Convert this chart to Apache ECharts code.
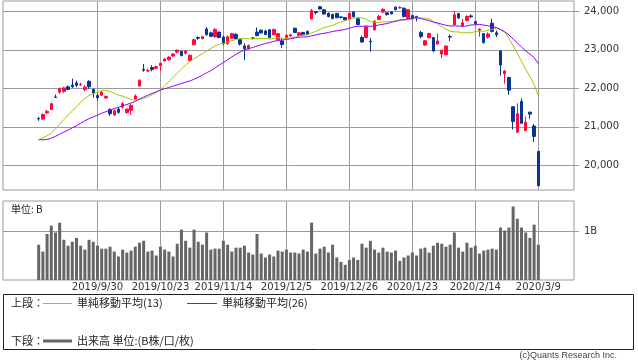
<!DOCTYPE html>
<html><head><meta charset="utf-8">
<script src="https://cdn.jsdelivr.net/npm/echarts@6/dist/echarts.min.js"></script>
<style>html,body{margin:0;padding:0;background:#fff}#c{width:638px;height:362px}</style>
</head><body><div id="c"></div>
<script>
// ---- data ----
const dates = [
'2019/9/6','2019/9/9','2019/9/10','2019/9/11','2019/9/12','2019/9/13','2019/9/17','2019/9/18','2019/9/19','2019/9/20','2019/9/24','2019/9/25','2019/9/26','2019/9/27','2019/9/30',
'2019/10/1','2019/10/2','2019/10/3','2019/10/4','2019/10/7','2019/10/8','2019/10/9','2019/10/10','2019/10/11','2019/10/15','2019/10/16','2019/10/17','2019/10/18','2019/10/21','2019/10/23',
'2019/10/24','2019/10/25','2019/10/28','2019/10/29','2019/10/30','2019/10/31','2019/11/1','2019/11/5','2019/11/6','2019/11/7','2019/11/8','2019/11/11','2019/11/12','2019/11/13','2019/11/14',
'2019/11/15','2019/11/18','2019/11/19','2019/11/20','2019/11/21','2019/11/22','2019/11/25','2019/11/26','2019/11/27','2019/11/28','2019/11/29','2019/12/2','2019/12/3','2019/12/4','2019/12/5',
'2019/12/6','2019/12/9','2019/12/10','2019/12/11','2019/12/12','2019/12/13','2019/12/16','2019/12/17','2019/12/18','2019/12/19','2019/12/20','2019/12/23','2019/12/24','2019/12/25','2019/12/26',
'2019/12/27','2019/12/30','2020/1/6','2020/1/7','2020/1/8','2020/1/9','2020/1/10','2020/1/14','2020/1/15','2020/1/16','2020/1/17','2020/1/20','2020/1/21','2020/1/22','2020/1/23',
'2020/1/24','2020/1/27','2020/1/28','2020/1/29','2020/1/30','2020/1/31','2020/2/3','2020/2/4','2020/2/5','2020/2/6','2020/2/7','2020/2/10','2020/2/12','2020/2/13','2020/2/14',
'2020/2/17','2020/2/18','2020/2/19','2020/2/20','2020/2/21','2020/2/25','2020/2/26','2020/2/27','2020/2/28','2020/3/2','2020/3/3','2020/3/4','2020/3/5','2020/3/6','2020/3/9'];

const opens = [
21215,21200,21360,21450,21775,21900,21920,22040,22085,22140,22090,21970,22180,21970,21810,
21820,21750,21450,21310,21460,21510,21370,21430,21720,22060,22490,22450,22540,22520,22590,
22710,22740,22840,22940,22960,22910,22720,23130,23320,23290,23540,23440,23340,23460,23330,
23160,23300,23400,23270,23100,23030,23310,23460,23510,23490,23520,23390,23260,23230,23320,
23360,23560,23370,23450,23480,23800,23990,24120,24040,23950,23920,23945,23855,23840,23800,
23985,23805,23320,23320,23220,23520,23790,23980,23960,23985,24110,24090,24080,23820,23890,
23870,23450,23125,23315,23320,23150,22890,22870,23345,23650,23940,23620,23760,23880,23730,
23500,23420,23330,23690,23440,22970,22380,22280,21520,20860,21660,20900,21380,21020,20360];

const closes = [
21205,21320,21400,21600,21765,21990,22010,21970,22040,22080,22100,22030,22040,21880,21755,
21900,21790,21340,21420,21375,21600,21460,21555,21800,22210,22470,22460,22490,22560,22650,
22760,22810,22890,22990,22850,22970,22860,23260,23300,23340,23390,23350,23530,23320,23160,
23340,23420,23290,23150,23030,23110,23300,23370,23440,23400,23320,23530,23420,23135,23380,
23390,23450,23440,23390,23400,24020,23970,24060,23930,23865,23815,23835,23845,23780,23950,
23860,23656,23204,23600,23205,23740,23870,24050,23915,23935,24040,24100,23865,24040,23800,
23830,23343,23235,23425,22970,23230,22990,23100,23330,23910,23830,23700,23870,23860,23680,
23540,23190,23410,23480,23390,22605,22450,21950,21140,21340,21090,21120,21330,20750,19470];

const lows = [
21155,21180,21340,21440,21760,21860,21880,21950,22010,22030,22060,21920,21980,21760,21680,
21800,21730,21280,21280,21340,21470,21340,21310,21700,22040,22430,22420,22440,22500,22450,
22700,22720,22820,22910,22830,22880,22700,23120,23260,23270,23370,23330,23320,23300,23120,
23130,23290,23280,23110,22730,23000,23270,23350,23420,23380,23300,23370,23240,23050,23300,
23340,23430,23350,23370,23380,23790,23920,24050,23910,23840,23790,23820,23810,23770,23790,
23840,23640,23180,23300,22950,23500,23770,23960,23890,23920,24030,24070,23840,23810,23780,
23740,23300,23100,23300,22940,23140,22780,22860,23230,23640,23800,23600,23740,23820,23650,
23340,23160,23290,23450,23330,22330,22120,21830,20930,20850,21080,20890,21210,20610,19460];

const highs = [
21260,21345,21440,21630,21840,22020,22040,22070,22250,22200,22140,22080,22210,21990,21860,
21930,21810,21480,21450,21510,21640,21470,21590,21840,22230,22630,22510,22600,22590,22660,
22790,22830,22910,23010,22970,23000,22870,23290,23350,23360,23590,23470,23560,23470,23370,
23370,23440,23430,23290,23170,23140,23330,23580,23530,23520,23540,23550,23440,23300,23400,
23410,23580,23460,23470,23500,24060,24010,24140,24050,23970,23940,23960,23870,23850,23970,
24000,23820,23365,23610,23310,23770,23910,24080,23975,24000,24120,24130,24100,24050,23900,
23880,23490,23250,23440,23330,23420,23000,23110,23400,24010,23960,23800,23890,23920,23760,
23560,23430,23450,23810,23500,22980,22470,22300,21540,21610,21740,21260,21390,21070,20370];

// 出来高 (B)
const volumes = [
0.72,0.58,0.94,1.11,0.97,1.17,0.82,0.70,0.78,0.86,0.70,0.62,0.82,0.78,0.70,
0.64,0.64,0.68,0.58,0.48,0.62,0.56,0.60,0.68,0.76,0.80,0.58,0.60,0.50,0.68,
0.62,0.58,0.48,0.74,1.03,0.80,0.66,1.03,0.78,0.72,0.97,0.62,0.64,0.64,0.80,
0.72,0.58,0.66,0.66,0.70,0.56,0.52,0.94,0.54,0.46,0.52,0.48,0.60,0.58,0.62,
0.56,0.56,0.54,0.62,0.58,1.17,0.54,0.64,0.68,0.56,0.72,0.46,0.37,0.31,0.41,
0.46,0.41,0.74,0.66,0.80,0.62,0.56,0.66,0.58,0.56,0.60,0.39,0.46,0.50,0.56,
0.50,0.64,0.66,0.56,0.70,0.76,0.74,0.68,0.72,0.97,0.66,0.58,0.76,0.66,0.70,
0.54,0.60,0.62,0.64,0.62,1.07,1.01,1.07,1.50,1.25,1.07,0.97,0.86,1.13,0.72];

// closes of the sessions just before the first candle (only feed the moving averages)
const closesBeforeWindow = [21540,21087,20720,20585,20516,20593,20684,20455,20655,20405,20418,20563,20677,20618,20628,20711,20261,20456,20479,20460,20704,20620,20625,20649,21085];

const tickDates = ['2019/9/30','2019/10/23','2019/11/14','2019/12/5','2019/12/26','2020/1/23','2020/2/14','2020/3/9'];
const priceTicks = [20000,21000,22000,23000,24000];
const volumeTicks = [1];

// ---- build ----
const PAD = 8;
const cats = [];
for (let k = 0; k < PAD; k++) cats.push('L' + k);
dates.forEach(d => cats.push(d));
for (let k = 0; k < PAD; k++) cats.push('R' + k);

const padEmpty = n => Array(n).fill('-');
const candleData = Array(PAD).fill(['-','-','-','-']).concat(dates.map((d, i) => [opens[i], closes[i], lows[i], highs[i]]));
function movingAverage(n) {
  const all = closesBeforeWindow.concat(closes);
  const off = closesBeforeWindow.length;
  const out = [];
  for (let i = 0; i < closes.length; i++) {
    const j = off + i;
    if (j - n + 1 < 0) { out.push('-'); continue; }
    let s = 0;
    for (let k = j - n + 1; k <= j; k++) s += all[k];
    out.push(+(s / n).toFixed(1));
  }
  return padEmpty(PAD).concat(out);
}
const ma13 = movingAverage(13);
const ma26 = movingAverage(26);
const volData = padEmpty(PAD).concat(volumes);

const UP = '#ff0a3c', DOWN = '#0a3396', MA13C = '#99cc00', MA26C = '#9900ff', VOLC = '#666666', GRID = '#9a9a9a';
const gridLine = {
  silent: true, symbol: ['none', 'none'], z: 1, animation: false,
  label: { show: false }, emphasis: { disabled: true },
  lineStyle: { color: GRID, width: 1, type: 'solid' }
};
const font = 'DejaVu Sans';
const jp = '"Noto Sans CJK JP", sans-serif';

const chart = echarts.init(document.getElementById('c'), null, { renderer: 'canvas' });
chart.setOption({
  animation: false,
  backgroundColor: '#fff',
  grid: [
    { left: 3, top: 1, width: 571, height: 189, show: true, borderColor: GRID, borderWidth: 1, backgroundColor: 'transparent' },
    { left: 3, top: 201, width: 571, height: 79, show: true, borderColor: GRID, borderWidth: 1, backgroundColor: 'transparent' }
  ],
  xAxis: [
    { gridIndex: 0, type: 'category', data: cats, boundaryGap: true,
      axisLine: { show: false }, axisTick: { show: false }, axisLabel: { show: false }, splitLine: { show: false } },
    { gridIndex: 1, type: 'category', data: cats, boundaryGap: true,
      axisLine: { show: false }, axisTick: { show: false }, splitLine: { show: false },
      axisLabel: { show: true, interval: (idx, val) => tickDates.includes(val), margin: 2,
        fontSize: 10, fontFamily: font, color: '#333' } }
  ],
  yAxis: [
    { gridIndex: 0, type: 'value', position: 'right', min: 19358, max: 24268, scale: true,
      splitLine: { show: false }, axisLine: { show: false },
      axisTick: { show: true, length: 5, customValues: priceTicks, lineStyle: { color: GRID } },
      axisLabel: { customValues: priceTicks, margin: 10, fontSize: 10, fontFamily: font, color: '#333',
        formatter: v => v.toLocaleString('en-US') } },
    { gridIndex: 1, type: 'value', position: 'right', min: 0, max: 1.612,
      splitLine: { show: false }, axisLine: { show: false },
      axisTick: { show: true, length: 5, customValues: volumeTicks, lineStyle: { color: GRID } },
      axisLabel: { customValues: volumeTicks, margin: 10, fontSize: 10, fontFamily: font, color: '#333',
        formatter: v => v + 'B' } }
  ],
  series: [
    { type: 'candlestick', xAxisIndex: 0, yAxisIndex: 0, data: candleData, barWidth: 3,
      itemStyle: { color: UP, color0: DOWN, borderColor: UP, borderColor0: DOWN, borderWidth: 1 },
      markLine: Object.assign({}, gridLine, {
        data: tickDates.map(d => ({ xAxis: d })).concat(priceTicks.map(v => ({ yAxis: v })))
      }) },
    { type: 'line', xAxisIndex: 0, yAxisIndex: 0, data: ma13, symbol: 'none', z: 3,
      lineStyle: { color: MA13C, width: 1 }, itemStyle: { color: MA13C } },
    { type: 'line', xAxisIndex: 0, yAxisIndex: 0, data: ma26, symbol: 'none', z: 3,
      lineStyle: { color: MA26C, width: 1 }, itemStyle: { color: MA26C } },
    { type: 'bar', xAxisIndex: 1, yAxisIndex: 1, data: volData, barWidth: 3,
      itemStyle: { color: VOLC },
      markLine: Object.assign({}, gridLine, {
        data: tickDates.map(d => ({ xAxis: d })).concat(volumeTicks.map(v => ({ yAxis: v })))
      }) }
  ],
  graphic: [
    { type: 'text', left: 11, top: 204, style: { text: '単位: B', fontSize: 10, fontFamily: jp, fill: '#222' } },
    { type: 'rect', shape: { x: 3.5, y: 294.5, width: 630, height: 55 }, style: { fill: 'none', stroke: '#222', lineWidth: 1 } },
    { type: 'text', x: 11, y: 303, style: { text: '上段：', fontSize: 11, fontFamily: jp, fill: '#222', verticalAlign: 'middle' } },
    { type: 'line', shape: { x1: 43, y1: 303.5, x2: 72, y2: 303.5 }, style: { stroke: MA13C, lineWidth: 1 } },
    { type: 'text', x: 77, y: 303, style: { text: '単純移動平均(13)', fontSize: 11, fontFamily: jp, fill: '#222', verticalAlign: 'middle' } },
    { type: 'line', shape: { x1: 187, y1: 303.5, x2: 217, y2: 303.5 }, style: { stroke: MA26C, lineWidth: 1 } },
    { type: 'text', x: 222, y: 303, style: { text: '単純移動平均(26)', fontSize: 11, fontFamily: jp, fill: '#222', verticalAlign: 'middle' } },
    { type: 'text', x: 11, y: 341, style: { text: '下段：', fontSize: 11, fontFamily: jp, fill: '#222', verticalAlign: 'middle' } },
    { type: 'line', shape: { x1: 43, y1: 341, x2: 72, y2: 341 }, style: { stroke: VOLC, lineWidth: 3 } },
    { type: 'text', x: 77, y: 341, style: { text: '出来高 単位:(B株/口/枚)', fontSize: 11, fontFamily: jp, fill: '#222', verticalAlign: 'middle' } },
    { type: 'text', right: 21, top: 351, style: { text: '(c)Quants Research Inc.', fontSize: 9, fontFamily: 'Liberation Sans', fill: '#444' } }
  ]
});
</script>
</body></html>
